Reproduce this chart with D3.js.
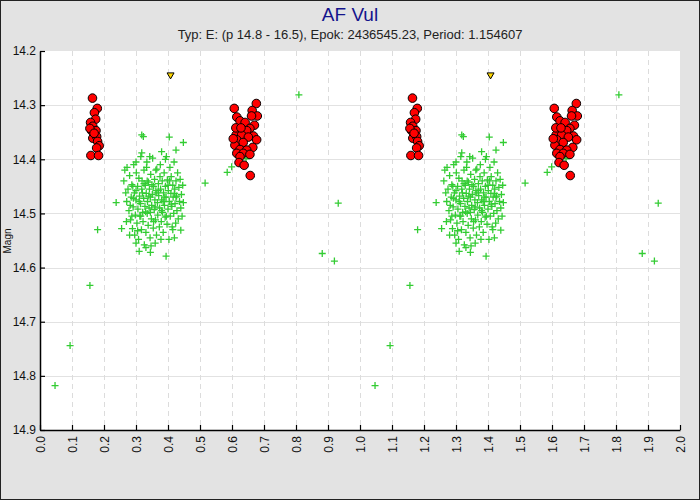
<!DOCTYPE html>
<html>
<head>
<meta charset="utf-8">
<script src="https://cdn.jsdelivr.net/npm/d3@7"></script>
<style>
  body { margin: 0; background: #fff; }
  svg text { font-family: "Liberation Sans", Arial, sans-serif; }
</style>
</head>
<body>
<div id="chart"></div>
<script>
// phase / magnitude (phase 0..1, drawn twice)
const titleText = "AF Vul";
const subtitleText = "Typ: E: (p 14.8 - 16.5), Epok: 2436545.23, Period: 1.154607";
const yLabel = "Magn";
const xTicks = d3.range(0, 21).map(i => i / 10);
const yTicks = [14.2, 14.3, 14.4, 14.5, 14.6, 14.7, 14.8, 14.9];

// red: estimates at minimum light
const redPhase = [0.164, 0.179, 0.170, 0.174, 0.158, 0.165, 0.161, 0.175, 0.165, 0.177, 0.180, 0.185, 0.177, 0.159, 0.183, 0.156, 0.169,
  0.676, 0.607, 0.663, 0.679, 0.661, 0.615, 0.625, 0.641, 0.670, 0.656, 0.620, 0.646, 0.613, 0.630, 0.667, 0.651, 0.615, 0.677,
  0.635, 0.609, 0.665, 0.625, 0.646, 0.615, 0.635, 0.656, 0.625, 0.622, 0.638, 0.657, 0.612, 0.628, 0.604];
const redMag = [14.287, 14.306, 14.314, 14.326, 14.332, 14.339, 14.347, 14.347, 14.361, 14.358, 14.367, 14.375, 14.379, 14.393, 14.393, 14.343, 14.352,
  14.297, 14.306, 14.310, 14.320, 14.320, 14.322, 14.329, 14.332, 14.337, 14.343, 14.347, 14.347, 14.355, 14.355, 14.357, 14.359, 14.364, 14.364,
  14.369, 14.374, 14.378, 14.382, 14.383, 14.389, 14.389, 14.391, 14.395, 14.406, 14.411, 14.430, 14.342, 14.342, 14.362];

// green crosses
const greenPhase = [0.262, 0.268, 0.271, 0.275, 0.278, 0.280, 0.283, 0.285, 0.287, 0.289, 0.291, 0.293, 0.295, 0.296, 0.298, 0.300, 0.301, 0.303, 0.305, 0.306,
  0.308, 0.309, 0.311, 0.312, 0.314, 0.315, 0.317, 0.318, 0.319, 0.321, 0.322, 0.324, 0.325, 0.326, 0.328, 0.329, 0.331, 0.332, 0.334, 0.335,
  0.336, 0.338, 0.339, 0.341, 0.342, 0.344, 0.345, 0.346, 0.348, 0.349, 0.351, 0.352, 0.354, 0.355, 0.357, 0.358, 0.359, 0.361, 0.362, 0.364,
  0.365, 0.367, 0.368, 0.370, 0.371, 0.373, 0.374, 0.376, 0.377, 0.379, 0.380, 0.382, 0.383, 0.385, 0.386, 0.388, 0.389, 0.391, 0.392, 0.394,
  0.395, 0.397, 0.398, 0.400, 0.401, 0.403, 0.404, 0.406, 0.407, 0.409, 0.410, 0.412, 0.413, 0.415, 0.416, 0.418, 0.419, 0.421, 0.422, 0.424,
  0.425, 0.427, 0.428, 0.430, 0.432, 0.434, 0.436, 0.438, 0.440, 0.442, 0.444, 0.446, 0.448,
  0.300, 0.310, 0.320, 0.330, 0.340, 0.350, 0.360, 0.370, 0.380, 0.390, 0.400, 0.410, 0.420, 0.292, 0.315, 0.335, 0.355, 0.375, 0.395, 0.415,
  0.305, 0.325, 0.345, 0.365, 0.385, 0.405, 0.425, 0.287, 0.347, 0.362, 0.333, 0.378, 0.290, 0.282,
  0.318, 0.323, 0.404, 0.448, 0.425, 0.380, 0.318, 0.300, 0.272, 0.343, 0.265, 0.392,
  0.300, 0.331, 0.394, 0.310, 0.280, 0.360, 0.420, 0.440, 0.255, 0.345, 0.270,
  0.047, 0.094, 0.156, 0.180, 0.238, 0.516, 0.585, 0.599, 0.644, 0.809, 0.882, 0.920, 0.932];
const greenMag = [14.440, 14.462, 14.478, 14.455, 14.495, 14.430, 14.512, 14.470, 14.447, 14.528, 14.488, 14.410, 14.462, 14.540, 14.503, 14.475, 14.425, 14.518, 14.450, 14.492,
  14.548, 14.435, 14.468, 14.505, 14.482, 14.395, 14.530, 14.455, 14.440, 14.498, 14.515, 14.472, 14.420, 14.558, 14.487, 14.448, 14.535, 14.463, 14.405, 14.500,
  14.478, 14.522, 14.442, 14.490, 14.455, 14.545, 14.470, 14.428, 14.510, 14.485, 14.465, 14.398, 14.527, 14.450, 14.493, 14.437, 14.475, 14.512, 14.458, 14.540,
  14.418, 14.480, 14.503, 14.445, 14.467, 14.525, 14.490, 14.410, 14.455, 14.515, 14.475, 14.440, 14.498, 14.535, 14.462, 14.425, 14.485, 14.507, 14.450, 14.470,
  14.395, 14.520, 14.438, 14.492, 14.458, 14.548, 14.478, 14.415, 14.505, 14.463, 14.432, 14.487, 14.525, 14.448, 14.470, 14.500, 14.405, 14.455, 14.482, 14.518,
  14.440, 14.468, 14.495, 14.425, 14.510, 14.452, 14.478, 14.437, 14.490, 14.465, 14.505, 14.448, 14.480,
  14.458, 14.478, 14.462, 14.497, 14.468, 14.447, 14.488, 14.458, 14.495, 14.470, 14.448, 14.483, 14.463, 14.472, 14.505, 14.440, 14.515, 14.432, 14.505, 14.530,
  14.532, 14.445, 14.498, 14.462, 14.478, 14.440, 14.470, 14.505, 14.560, 14.420, 14.415, 14.548, 14.450, 14.485,
  14.355, 14.358, 14.359, 14.369, 14.383, 14.386, 14.388, 14.405, 14.415, 14.395, 14.420, 14.400,
  14.555, 14.563, 14.579, 14.570, 14.540, 14.555, 14.545, 14.531, 14.528, 14.572, 14.515,
  14.818, 14.744, 14.633, 14.530, 14.480, 14.444, 14.424, 14.414, 14.399, 14.281, 14.574, 14.588, 14.481];

// fainter-than limit
const limitPhase = [0.408];
const limitMag = [14.246];

const W = 700, H = 500;
const margin = { top: 51, right: 20, bottom: 70, left: 40 };

const svg = d3.select("#chart").append("svg")
  .attr("width", W)
  .attr("height", H);

svg.append("rect")
  .attr("x", 0.5).attr("y", 0.5)
  .attr("width", W - 1).attr("height", H - 1)
  .attr("fill", "#e3e3e3")
  .attr("stroke", "#222");

const x = d3.scaleLinear().domain([0, 2]).range([margin.left, W - margin.right]);
const y = d3.scaleLinear().domain([14.2, 14.9]).range([margin.top, H - margin.bottom]);

svg.append("rect")
  .attr("x", x(0)).attr("y", y(14.2))
  .attr("width", x(2) - x(0)).attr("height", y(14.9) - y(14.2))
  .attr("fill", "#fff");

// grid
svg.append("g").selectAll("line")
  .data(yTicks.slice(1, -1))
  .join("line")
  .attr("x1", x(0)).attr("x2", x(2))
  .attr("y1", d => Math.round(y(d)) + 0.5).attr("y2", d => Math.round(y(d)) + 0.5)
  .attr("stroke", "#e2e2e2");

svg.append("g").selectAll("line")
  .data(xTicks.slice(1, -1))
  .join("line")
  .attr("x1", d => Math.round(x(d)) + 0.5).attr("x2", d => Math.round(x(d)) + 0.5)
  .attr("y1", y(14.2)).attr("y2", y(14.9))
  .attr("stroke", "#dcdcdc")
  .attr("stroke-dasharray", "5,4");

// axes
const xAxis = svg.append("g")
  .attr("transform", "translate(0," + y(14.9) + ")")
  .call(d3.axisBottom(x).tickValues(xTicks).tickFormat(d3.format(".1f")).tickSizeInner(-5).tickSizeOuter(0));
xAxis.select(".domain").attr("stroke", "#000").attr("stroke-width", 1.5);
xAxis.selectAll(".tick line").attr("stroke", "#000").attr("stroke-width", 1.2);
xAxis.selectAll("text")
  .attr("transform", "rotate(-90)")
  .attr("text-anchor", "end")
  .attr("x", -6).attr("y", 0).attr("dy", "0.35em")
  .attr("font-size", 12).attr("fill", "#111");

const yAxis = svg.append("g")
  .attr("transform", "translate(" + x(0) + ",0)")
  .call(d3.axisLeft(y).tickValues(yTicks).tickFormat(d3.format(".1f")).tickSizeInner(-5).tickSizeOuter(0));
yAxis.select(".domain").attr("stroke", "#000").attr("stroke-width", 1.5);
yAxis.selectAll(".tick line").attr("stroke", "#000").attr("stroke-width", 1.2);
yAxis.selectAll("text")
  .attr("x", -4)
  .attr("font-size", 12).attr("fill", "#111");

// titles
svg.append("text")
  .attr("x", W / 2).attr("y", 21)
  .attr("text-anchor", "middle")
  .attr("font-size", 19)
  .attr("fill", "#14148c")
  .text(titleText);

svg.append("text")
  .attr("x", W / 2).attr("y", 39)
  .attr("text-anchor", "middle")
  .attr("font-size", 13)
  .attr("fill", "#222")
  .text(subtitleText);

svg.append("text")
  .attr("transform", "translate(11,241) rotate(-90)")
  .attr("text-anchor", "middle")
  .attr("font-size", 10)
  .attr("fill", "#111")
  .text(yLabel);

// points, each phase drawn at p and p+1
const twice = (ph, mg) => ph.flatMap((p, i) => [[p, mg[i]], [p + 1, mg[i]]]);

const plot = svg.append("g");

plot.selectAll(".green")
  .data(twice(greenPhase, greenMag))
  .join("path")
  .attr("class", "green")
  .attr("transform", d => "translate(" + x(d[0]) + "," + y(d[1]) + ")")
  .attr("d", "M-3.5,0H3.5M0,-3.5V3.5")
  .attr("stroke", "#33cc33")
  .attr("stroke-width", 1.3)
  .attr("fill", "none");

plot.selectAll(".red")
  .data(twice(redPhase, redMag))
  .join("circle")
  .attr("class", "red")
  .attr("cx", d => x(d[0]))
  .attr("cy", d => y(d[1]))
  .attr("r", 4.3)
  .attr("fill", "#ff0000")
  .attr("stroke", "#000")
  .attr("stroke-width", 1);

plot.selectAll(".limit")
  .data(twice(limitPhase, limitMag))
  .join("path")
  .attr("class", "limit")
  .attr("transform", d => "translate(" + x(d[0]) + "," + y(d[1]) + ")")
  .attr("d", "M-3.5,-3L3.5,-3L0,3Z")
  .attr("fill", "#ffd700")
  .attr("stroke", "#000")
  .attr("stroke-width", 1);
</script>
</body>
</html>
